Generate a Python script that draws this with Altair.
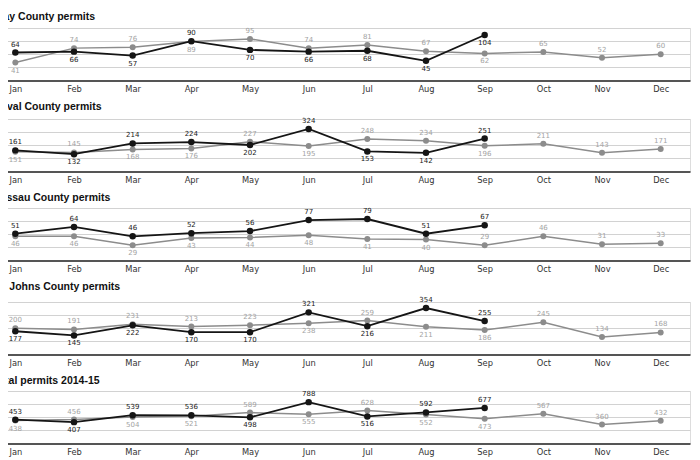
import altair as alt
import pandas as pd

months = ["Jan", "Feb", "Mar", "Apr", "May", "Jun", "Jul", "Aug", "Sep", "Oct", "Nov", "Dec"]

titles = ["Clay County permits", "Duval County permits", "Nassau County permits",
          "St. Johns County permits", "Total permits 2014-15"]

clay_2014 = [41, 74, 76, 89, 95, 74, 81, 67, 62, 65, 52, 60]
clay_2015 = [64, 66, 57, 90, 70, 66, 68, 45, 104]
duval_2014 = [151, 145, 168, 176, 227, 195, 248, 234, 196, 211, 143, 171]
duval_2015 = [161, 132, 214, 224, 202, 324, 153, 142, 251]
nassau_2014 = [46, 46, 29, 43, 44, 48, 41, 40, 29, 46, 31, 33]
nassau_2015 = [51, 64, 46, 52, 56, 77, 79, 51, 67]
stjohns_2014 = [200, 191, 231, 213, 223, 238, 259, 211, 186, 245, 134, 168]
stjohns_2015 = [177, 145, 222, 170, 170, 321, 216, 354, 255]
total_2014 = [438, 456, 504, 521, 589, 555, 628, 552, 473, 567, 360, 432]
total_2015 = [453, 407, 539, 536, 498, 788, 516, 592, 677]

y_max = [120, 400, 100, 400, 1000]

series_2014 = [clay_2014, duval_2014, nassau_2014, stjohns_2014, total_2014]
series_2015 = [clay_2015, duval_2015, nassau_2015, stjohns_2015, total_2015]

# label placement exceptions (style, not data)
flip = {(0, "Sep", "2015"), (2, "Sep", "2014")}

W = 704
H = 52.5


def panel(i):
    v14 = series_2014[i]
    v15 = series_2015[i]
    rows = []
    for k, m in enumerate(months):
        a = v14[k]
        b = v15[k] if k < len(v15) else None
        pos14 = "above" if (b is None or a >= b) else "below"
        if (i, m, "2014") in flip:
            pos14 = "below" if pos14 == "above" else "above"
        rows.append({"month": m, "series": "2014", "value": a, "pos": pos14})
        if b is not None:
            pos15 = "above" if b > a else "below"
            if (i, m, "2015") in flip:
                pos15 = "below" if pos15 == "above" else "above"
            rows.append({"month": m, "series": "2015", "value": b, "pos": pos15})
    df = pd.DataFrame(rows)
    d = y_max[i]
    x = alt.X("month:N",
              scale=alt.Scale(type="point", domain=months, padding=0.5),
              axis=alt.Axis(title=None, ticks=False, labelAngle=0, grid=False,
                            labelFont="DejaVu Sans", labelFontSize=8.3, labelColor="#333",
                            domainColor="#222", domainWidth=1.5, labelPadding=4))
    y = alt.Y("value:Q",
              scale=alt.Scale(domain=[0, d], nice=False, zero=True),
              axis=alt.Axis(title=None, values=[d / 4, d / 2, 3 * d / 4, d], labels=False,
                            ticks=False, domain=False, grid=True, gridColor="#d2d2d2",
                            gridWidth=1))
    base = alt.Chart(df).encode(x=x, y=y)
    g = base.transform_filter("datum.series == '2014'")
    k = base.transform_filter("datum.series == '2015'")
    gray_line = g.mark_line(color="#8c8c8c", strokeWidth=1.5)
    gray_pts = g.mark_circle(color="#8c8c8c", size=36, opacity=1)
    blk_line = k.mark_line(color="#151515", strokeWidth=1.8)
    blk_pts = k.mark_circle(color="#151515", size=42, opacity=1)
    col = alt.condition("datum.series == '2015'", alt.value("#1a1a1a"), alt.value("#a3a3a3"))
    above = base.transform_filter("datum.pos == 'above'").mark_text(
        dy=-8, baseline="middle", font="DejaVu Sans", fontSize=7
    ).encode(text="value:Q", color=col)
    below = base.transform_filter("datum.pos == 'below'").mark_text(
        dy=8, baseline="middle", font="DejaVu Sans", fontSize=7
    ).encode(text="value:Q", color=col)
    return alt.layer(gray_line, gray_pts, blk_line, blk_pts, above, below).properties(
        width=W, height=H,
        title=alt.TitleParams(titles[i], anchor="start", font="Liberation Sans",
                              fontSize=10.5, fontWeight="bold", color="#111", offset=4,
                              dx=7),
    )


chart = alt.vconcat(*[panel(i) for i in range(5)], spacing=7).properties(
    padding={"left": -23, "top": 3, "right": 0, "bottom": 0}
).configure_view(stroke=None).configure(background="white")

chart.save("out.html", embed_options={"renderer": "svg", "actions": False})
